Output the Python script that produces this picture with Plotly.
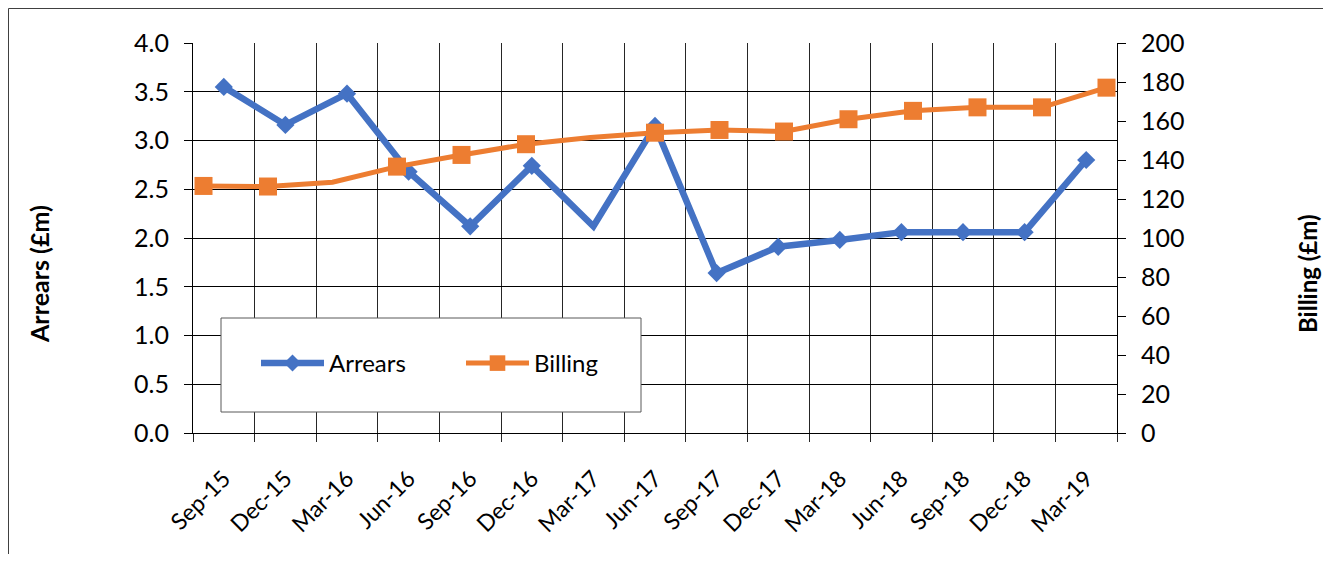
import plotly.graph_objects as go

categories = ["Sep-15", "Dec-15", "Mar-16", "Jun-16", "Sep-16", "Dec-16", "Mar-17", "Jun-17",
              "Sep-17", "Dec-17", "Mar-18", "Jun-18", "Sep-18", "Dec-18", "Mar-19"]
arrears = [3.55, 3.16, 3.48, 2.68, 2.12, 2.74, 2.12, 3.15, 1.64, 1.91, 1.98, 2.06, 2.06, 2.06, 2.80]
billing = [126.7, 126.4, 128.6, 136.6, 142.6, 148.1, 151.5, 154.0, 155.4, 154.6, 160.9, 165.2, 167.0, 167.0, 177.1]
arrears_marker_shown = [1, 1, 1, 1, 1, 1, 0, 1, 1, 1, 1, 1, 1, 1, 1]
billing_marker_shown = [1, 1, 0, 1, 1, 1, 0, 1, 1, 1, 1, 1, 1, 1, 1]

BLUE = "#4472C4"
ORANGE = "#ED7D31"
FONT = "Lato"

fig = go.Figure()
fig.add_trace(go.Scatter(
    x=categories, y=arrears, name="Arrears", mode="lines+markers",
    line=dict(color=BLUE, width=6.5),
    marker=dict(symbol="diamond", color=BLUE, opacity=1, line=dict(width=0),
                size=[14 * s for s in arrears_marker_shown]),
    xaxis="x", yaxis="y",
))
fig.add_trace(go.Scatter(
    x=categories, y=billing, name="Billing", mode="lines+markers",
    line=dict(color=ORANGE, width=5),
    marker=dict(symbol="square", color=ORANGE, opacity=1, line=dict(width=0),
                size=[18 * s for s in billing_marker_shown]),
    xaxis="x2", yaxis="y2",
))

# page offset: browser body margin of 8px
OFF = 8
W, H = 1331 - 2 * OFF, 562 - 2 * OFF
L, R, T, B = 193 - OFF, 1117 - OFF, 43 - OFF, 433 - OFF

def px_x(p):
    return (p - OFF - L) / (R - L)

def px_y(p):
    return (B - (p - OFF)) / (B - T)

gridc = "#262626"
fig.update_layout(
    width=W, height=H,
    margin=dict(l=L, r=W - R, t=T, b=H - B, pad=0),
    paper_bgcolor="white", plot_bgcolor="white",
    font=dict(family=FONT, size=23, color="black"),
    showlegend=True,
    legend=dict(
        orientation="h", x=px_x(256), y=px_y(341), xanchor="left", yanchor="top",
        bgcolor="rgba(0,0,0,0)", borderwidth=0, font=dict(size=24),
        itemwidth=63, entrywidth=127, entrywidthmode="pixels",
    ),
    xaxis=dict(
        type="category", categoryorder="array", categoryarray=categories,
        range=[-0.5, 14.5], tickson="boundaries", ticks="outside", ticklen=8,
        tickcolor=gridc, tickangle=-45, showgrid=True, gridcolor=gridc, gridwidth=1,
        showline=True, linecolor="black", linewidth=1, zeroline=False,
        ticklabelstandoff=22, tickfont=dict(size=23),
    ),
    xaxis2=dict(
        type="category", categoryorder="array", categoryarray=categories,
        overlaying="x", range=[-0.163, 14.163], visible=False, anchor="y2",
    ),
    yaxis=dict(
        range=[0, 4], dtick=0.5, tick0=0, tickformat=".1f", ticks="outside", ticklen=8,
        tickcolor="black", showgrid=True, gridcolor="black", gridwidth=1,
        showline=True, linecolor="black", linewidth=1, zeroline=False,
        ticklabelstandoff=10, tickfont=dict(size=25),
    ),
    yaxis2=dict(
        range=[0, 200], dtick=20, tick0=0, side="right", overlaying="y", anchor="x",
        ticks="outside", ticklen=8, tickcolor="black", showgrid=False,
        showline=True, linecolor="black", linewidth=1, zeroline=False,
        ticklabelstandoff=10, tickfont=dict(size=25),
    ),
    shapes=[
        # outer chart frame (extends past the right and bottom page edges)
        dict(type="rect", xref="paper", yref="paper",
             x0=px_x(8.5), x1=px_x(1345), y0=px_y(620), y1=px_y(8.5),
             line=dict(color="#404040", width=1), fillcolor="rgba(0,0,0,0)", layer="below"),
        # legend box
        dict(type="rect", xref="paper", yref="paper",
             x0=px_x(221), x1=px_x(641), y0=px_y(412), y1=px_y(318),
             line=dict(color="#595959", width=1), fillcolor="white", layer="above"),
    ],
    annotations=[
        dict(text="<b>Arrears (£m)</b>", xref="paper", yref="paper",
             x=px_x(39), y=px_y(274), textangle=-90, showarrow=False,
             font=dict(size=25), xanchor="center", yanchor="middle"),
        dict(text="<b>Billing (£m)</b>", xref="paper", yref="paper",
             x=px_x(1307), y=px_y(274), textangle=-90, showarrow=False,
             font=dict(size=24), xanchor="center", yanchor="middle"),
    ],
)

fig.write_html("out.html")
